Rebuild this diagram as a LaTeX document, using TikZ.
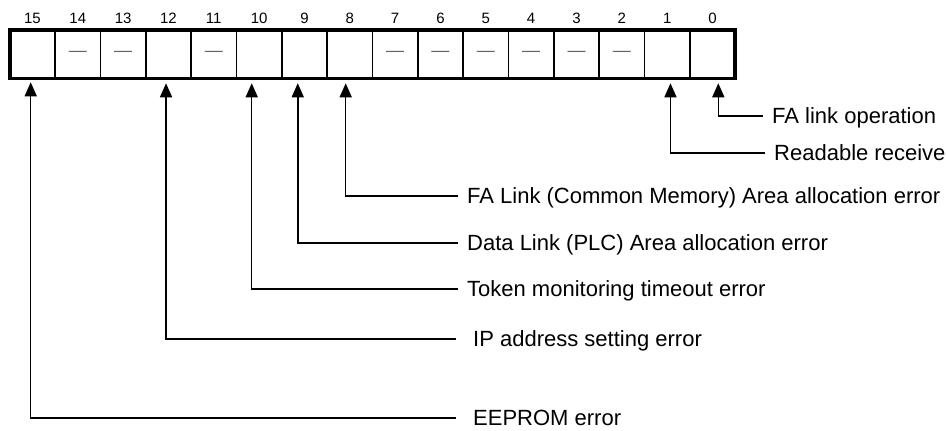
\documentclass[tikz,border=0pt]{standalone}
\usepackage{fontspec}
\setmainfont{Liberation Sans}
\usepackage{tikz}
\usetikzlibrary{arrows.meta, positioning}
\tikzset{
    bitcell/.style = {rectangle, draw=black, line width=1.6pt, minimum width=45.34pt, minimum height=48.5pt, inner sep=0pt, outer sep=0pt},
    reserved/.style = {bitcell, text=black!60, font=\fontsize{18}{20}\selectfont},
    bitnum/.style = {inner sep=0pt, text depth=0pt, font=\fontsize{15}{17}\selectfont},
    desc/.style = {anchor=west, inner xsep=9pt, inner ysep=0pt, text height=15pt, text depth=0pt, font=\fontsize{22}{24}\selectfont},
    fardesc/.style = {desc, inner xsep=17pt},
    arrow/.style = {line width=1.5pt, -{Triangle[length=14pt, width=12pt]}}
}
\begin{document}
\begin{tikzpicture}[x=1pt, y=-1pt]
\useasboundingbox (0,0) rectangle (946,431);

% register cells, bit 15 on the left
\node (b15) [bitcell] at (32.42,54) {};
\node (b14) [reserved, right=0pt of b15] {—};
\node (b13) [reserved, right=0pt of b14] {—};
\node (b12) [bitcell, right=0pt of b13] {};
\node (b11) [reserved, right=0pt of b12] {—};
\node (b10) [bitcell, right=0pt of b11] {};
\node (b9) [bitcell, right=0pt of b10] {};
\node (b8) [bitcell, right=0pt of b9] {};
\node (b7) [reserved, right=0pt of b8] {—};
\node (b6) [reserved, right=0pt of b7] {—};
\node (b5) [reserved, right=0pt of b6] {—};
\node (b4) [reserved, right=0pt of b5] {—};
\node (b3) [reserved, right=0pt of b4] {—};
\node (b2) [reserved, right=0pt of b3] {—};
\node (b1) [bitcell, right=0pt of b2] {};
\node (b0) [bitcell, right=0pt of b1] {};
\draw [line width=3.5pt] (b15.north west) rectangle (b0.south east);

% bit numbers
\foreach \b in {0,...,15}
    \node (n\b) [bitnum, above=6pt of b\b] {\b};

% descriptions
\node (linkop) [desc] at (763,116) {FA link operation};
\node (readrx) [desc] at (765,153) {Readable receive};
\node (faerr) [desc] at (458,196) {FA Link (Common Memory) Area allocation error};
\node (dlerr) [desc] at (458,243) {Data Link (PLC) Area allocation error};
\node (token) [desc] at (458,289) {Token monitoring timeout error};
\node (iperr) [fardesc] at (456,339) {IP address setting error};
\node (eeprom) [fardesc] at (456,418) {EEPROM error};

\draw [arrow] (linkop.west) -| ([xshift=5.8pt, yshift=-5pt]b0.south);
\draw [arrow] (readrx.west) -| ([xshift=3.3pt, yshift=-5pt]b1.south);
\draw [arrow] (faerr.west) -| ([xshift=-4.1pt, yshift=-5pt]b8.south);
\draw [arrow] (dlerr.west) -| ([xshift=-6.7pt, yshift=-5pt]b9.south);
\draw [arrow] (token.west) -| ([xshift=-7.4pt, yshift=-5pt]b10.south);
\draw [arrow] (iperr.west) -| ([xshift=-2.4pt, yshift=-5pt]b12.south);
\draw [arrow] (eeprom.west) -| ([xshift=-1.7pt, yshift=-4pt]b15.south);
\end{tikzpicture}
\end{document}
